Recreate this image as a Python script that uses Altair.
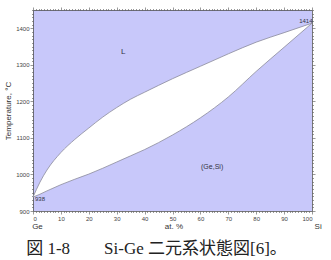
import altair as alt
import pandas as pd

# composition (at.% Si)
at_pct = [0, 2.5, 5, 10, 15, 20, 25, 30, 35, 40, 50, 60, 70, 80, 90, 100]
liquidus = [938, 979, 1012, 1060, 1096, 1127, 1157, 1183, 1206, 1225, 1262, 1296, 1330, 1362, 1388, 1414]
solidus = [938, 946, 955, 972, 987, 1001, 1017, 1034, 1051, 1068, 1108, 1155, 1212, 1282, 1348, 1414]

label_text = ["L", "(Ge,Si)", "938", "1414"]
label_x = [32.3, 64.2, 2.5, 97.8]
label_y = [1336, 1020, 932.7, 1421]
label_size = [8, 7, 6, 6]

xname_text = ["Ge", "at. %", "Si"]
xname_x = [1.6, 50.5, 102.2]

caption = "図 1-8\u3000\u3000Si-Ge 二元系状態図[6]。"

LAV = "#c8c8fa"
GRID = "#555555"
FONT = "Liberation Sans"

df = pd.DataFrame({"at": at_pct, "liq": liquidus, "sol": solidus})
lab = pd.DataFrame({"t": label_text, "x": label_x, "y": label_y, "s": label_size})
xn = pd.DataFrame({"t": xname_text, "x": xname_x})

xscale = alt.Scale(domain=[0, 100], nice=False, zero=False)
yscale = alt.Scale(domain=[900, 1450], nice=False, zero=False)

xaxis_bottom = alt.Axis(
    values=list(range(0, 101)), format="d",
    labelExpr="datum.value % 10 === 0 ? datum.label : ''",
    tickSize={"condition": {"test": "datum.value % 10 === 0", "value": 3}, "value": 1.5},
    labelFontSize=6, labelColor="#444", tickColor=GRID, domainColor=GRID,
    labelPadding=1, labelOverlap=False, labelFont=FONT, grid=False, title=None,
    orient="bottom", tickWidth=0.6, domainWidth=0.8,
)
xaxis_top = alt.Axis(
    values=list(range(0, 101)), labels=False,
    tickSize={"condition": {"test": "datum.value % 10 === 0", "value": 3}, "value": 1.5},
    tickColor=GRID, domainColor=GRID, grid=False, title=None, orient="top",
    tickWidth=0.6, domainWidth=0.8,
)
yaxis_left = alt.Axis(
    values=list(range(900, 1451, 10)), format="d",
    labelExpr="datum.value % 100 === 0 ? datum.label : ''",
    tickSize={"condition": {"test": "datum.value % 100 === 0", "value": 3}, "value": 1.5},
    labelFontSize=6, labelColor="#444", tickColor=GRID, domainColor=GRID,
    labelPadding=1, labelOverlap=False, labelFont=FONT, grid=False,
    title="Temperature, °C", titleFontSize=8, titleFontWeight="normal",
    titleColor="#333", titleFont=FONT, titlePadding=3, orient="left",
    tickWidth=0.6, domainWidth=0.8,
)
yaxis_right = alt.Axis(
    values=list(range(900, 1451, 10)), labels=False,
    tickSize={"condition": {"test": "datum.value % 100 === 0", "value": 3}, "value": 1.5},
    tickColor=GRID, domainColor=GRID, grid=False, title=None, orient="right",
    tickWidth=0.6, domainWidth=0.8,
)

base = alt.Chart(df)

gap = base.mark_area(color="white", interpolate="monotone").encode(
    x=alt.X("at:Q", scale=xscale, axis=xaxis_bottom),
    y=alt.Y("liq:Q", scale=yscale, axis=yaxis_left),
    y2="sol:Q",
)
liq_line = base.mark_line(color="#8a8a9a", strokeWidth=0.8, interpolate="monotone").encode(
    x=alt.X("at:Q", scale=xscale, axis=xaxis_top),
    y=alt.Y("liq:Q", scale=yscale, axis=yaxis_right),
)
sol_line = base.mark_line(color="#8a8a9a", strokeWidth=0.8, interpolate="monotone").encode(
    x=alt.X("at:Q", scale=xscale, axis=None),
    y=alt.Y("sol:Q", scale=yscale, axis=None),
)
labels = alt.Chart(lab).mark_text(color="#333344", font=FONT).encode(
    x=alt.X("x:Q", scale=xscale, axis=None),
    y=alt.Y("y:Q", scale=yscale, axis=None),
    text="t:N",
    size=alt.Size("s:Q", scale=None, legend=None),
)
xnames = alt.Chart(xn).mark_text(color="#333", font=FONT, fontSize=8, baseline="middle").encode(
    x=alt.X("x:Q", scale=xscale, axis=None),
    y=alt.value(217),
    text="t:N",
)

chart = alt.layer(gap, liq_line, sol_line, labels, xnames).resolve_axis(
    x="independent", y="independent"
).properties(
    width=279,
    height=201,
    padding={"left": 33, "top": 10, "right": 19, "bottom": 49},
    autosize=alt.AutoSizeParams(type="none"),
    title=alt.TitleParams(
        caption, orient="bottom", anchor="middle", dx=-16, offset=10,
        fontSize=17, fontWeight="normal", color="#222",
        font="Liberation Serif, Noto Sans CJK JP",
    ),
).configure_view(fill=LAV, stroke=None)

chart.save("out.html", embed_options={"renderer": "svg", "actions": False})
